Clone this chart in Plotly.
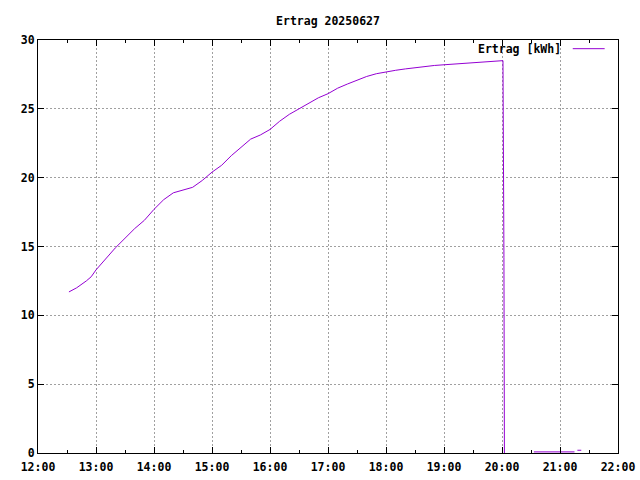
import plotly.graph_objects as go

day = "2025-06-27"
times = ["12:32", "12:40", "12:50", "12:55", "13:00", "13:10", "13:20", "13:30", "13:40", "13:50",
         "14:00", "14:10", "14:20", "14:30", "14:40", "14:50", "15:00", "15:10", "15:20", "15:30",
         "15:40", "15:50", "16:00", "16:10", "16:20", "16:30", "16:40", "16:50", "17:00", "17:10",
         "17:20", "17:30", "17:40", "17:50", "18:00", "18:10", "18:20", "18:30", "18:40", "18:50",
         "19:00", "19:10", "19:20", "19:30", "19:40", "19:50", "20:00", "20:01", "20:02", "20:02:30",
         None, "20:33", "21:15", None, "21:18", "21:22"]
values = [11.7, 12.0, 12.5, 12.8, 13.3, 14.1, 14.9, 15.6, 16.3, 16.9,
          17.7, 18.4, 18.9, 19.1, 19.3, 19.8, 20.4, 20.9, 21.6, 22.2,
          22.8, 23.1, 23.5, 24.1, 24.6, 25.0, 25.4, 25.8, 26.1, 26.5,
          26.8, 27.1, 27.35, 27.55, 27.7, 27.8, 27.9, 28.0, 28.1, 28.15,
          28.2, 28.25, 28.3, 28.35, 28.4, 28.45, 28.45, 28.5, 14.2, 0.0,
          None, 0.08, 0.08, None, 0.2, 0.2]

x_vals = [f"{day} {t}" if t else None for t in times]

title_text = "Ertrag 20250627"
legend_text = "Ertrag [kWh]"
line_color = "#9400d3"
font_family = "DejaVu Sans Mono"
fsize = 11.5

fig = go.Figure()
fig.add_trace(go.Scatter(x=x_vals, y=values, mode="lines", connectgaps=False,
                         line=dict(color=line_color, width=1), name=legend_text,
                         showlegend=False))

fig.update_layout(
    width=640, height=480,
    margin=dict(l=38, r=22, t=40, b=27, autoexpand=False),
    paper_bgcolor="white", plot_bgcolor="white",
    font=dict(family=font_family, size=fsize, color="black", weight="bold"),
    title=dict(text=title_text, x=0.5125, xanchor="center", y=0.957, yanchor="middle",
               font=dict(family=font_family, size=fsize, color="black", weight="bold")),
)
fig.update_xaxes(
    type="date", range=[f"{day} 12:00", f"{day} 22:00"], automargin=False,
    dtick=3600000, tickformat="%H:%M", tickangle=0, ticklabelstandoff=3,
    showline=True, linecolor="black", linewidth=1, mirror="allticks",
    ticks="inside", ticklen=6, tickcolor="black",
    minor=dict(dtick=1800000, ticks="inside", ticklen=3, tickcolor="black", showgrid=False),
    showgrid=True, gridcolor="#a0a0a0", griddash="2px,2px", gridwidth=1,
    zeroline=False, fixedrange=True,
)
fig.update_yaxes(
    range=[0, 30], dtick=5, tick0=0, automargin=False,
    showline=True, linecolor="black", linewidth=1, mirror="allticks",
    ticks="inside", ticklen=6, tickcolor="black",
    showgrid=True, gridcolor="#a0a0a0", griddash="2px,2px", gridwidth=1,
    zeroline=False, fixedrange=True,
)

# key (gnuplot style: text left, sample right)
fig.add_annotation(text=legend_text, xref="paper", yref="paper", x=0.905, y=0.979,
                   xanchor="right", yanchor="middle", showarrow=False,
                   font=dict(family=font_family, size=fsize, color="black", weight="bold"))
fig.add_shape(type="line", xref="paper", yref="paper", x0=0.922, x1=0.977, y0=0.979, y1=0.979,
              line=dict(color=line_color, width=1))

fig.write_html("out.html", config={"displayModeBar": False},
               post_script="document.body.style.margin='0';document.body.style.overflow='hidden';")
